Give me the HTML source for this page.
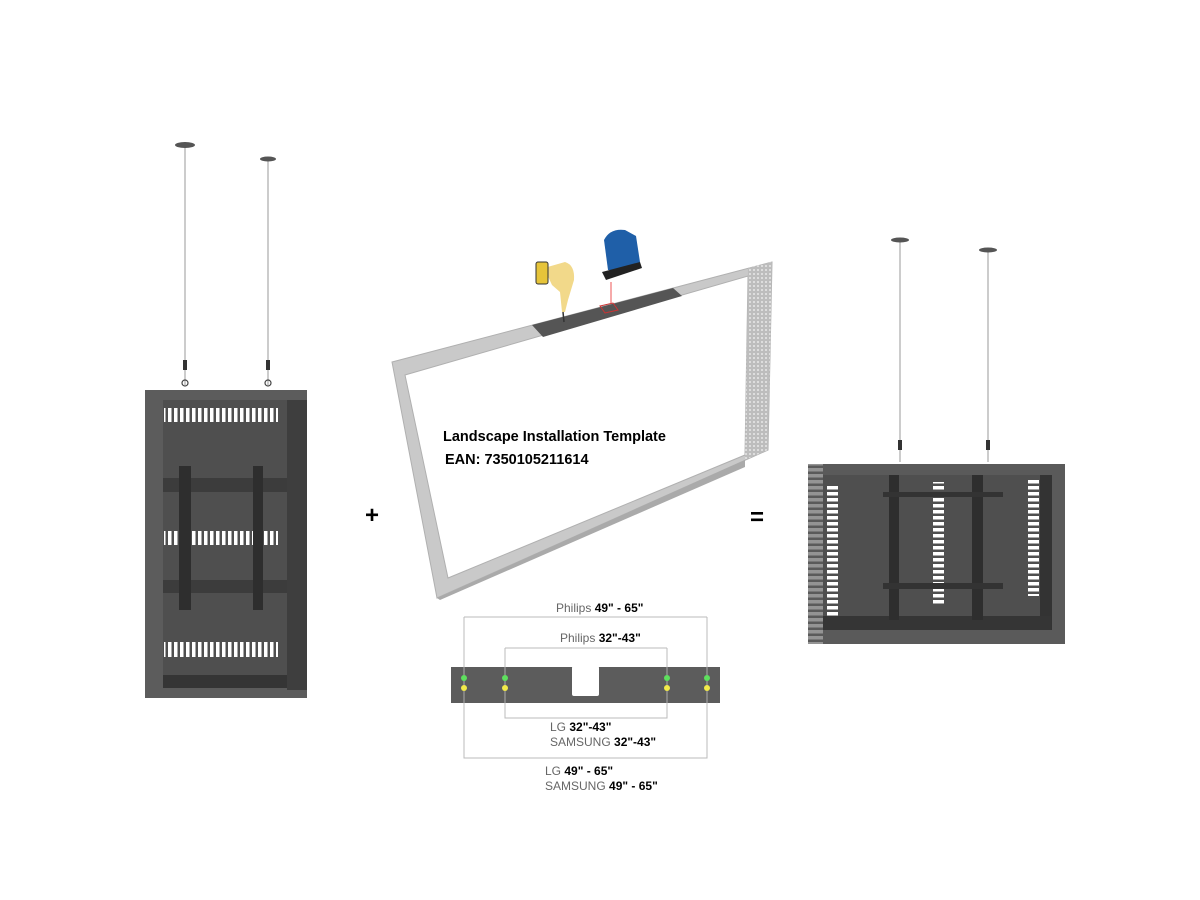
<!DOCTYPE html>
<html><head><meta charset="utf-8"><style>
html,body{margin:0;padding:0;background:#fff;}
svg{display:block;}
</style></head><body>
<svg width="1200" height="900" viewBox="0 0 1200 900" xmlns="http://www.w3.org/2000/svg" font-family="Liberation Sans, sans-serif">
<defs>
<pattern id="vent" width="6" height="10" patternUnits="userSpaceOnUse"><rect x="0" y="0" width="3.5" height="10" fill="#fff"/></pattern>
<pattern id="hvent" width="10" height="6" patternUnits="userSpaceOnUse"><rect x="0" y="0" width="10" height="3.5" fill="#fff"/></pattern>
<pattern id="perf" width="4" height="4" patternUnits="userSpaceOnUse"><rect width="4" height="4" fill="#bdbdbd"/><circle cx="2" cy="2" r="1" fill="#e8e8e8"/></pattern>
</defs>

<!-- LEFT CABINET wires -->
<line x1="185" y1="147" x2="185" y2="385" stroke="#aaa" stroke-width="1.2"/>
<line x1="268" y1="161" x2="268" y2="385" stroke="#aaa" stroke-width="1.2"/>
<ellipse cx="185" cy="145" rx="10" ry="3" fill="#555"/>
<ellipse cx="268" cy="159" rx="8" ry="2.5" fill="#555"/>
<rect x="183" y="360" width="4" height="10" fill="#333"/>
<rect x="266" y="360" width="4" height="10" fill="#333"/>
<circle cx="185" cy="383" r="3" fill="none" stroke="#444" stroke-width="1.2"/>
<circle cx="268" cy="383" r="3" fill="none" stroke="#444" stroke-width="1.2"/>
<!-- left cabinet body -->
<rect x="145" y="390" width="162" height="308" fill="#5c5c5c"/>
<rect x="163" y="400" width="124" height="288" fill="#4f4f4f"/>
<rect x="287" y="400" width="20" height="290" fill="#3e3e3e"/>
<rect x="163" y="675" width="124" height="13" fill="#353535"/>
<rect x="164" y="408" width="114" height="14" fill="url(#vent)"/>
<rect x="164" y="531" width="114" height="14" fill="url(#vent)"/>
<rect x="164" y="642" width="114" height="15" fill="url(#vent)"/>
<rect x="163" y="478" width="124" height="14" fill="#3c3c3c"/>
<rect x="163" y="580" width="124" height="13" fill="#3c3c3c"/>
<rect x="179" y="466" width="12" height="144" fill="#2e2e2e"/>
<rect x="253" y="466" width="10" height="144" fill="#2e2e2e"/>

<!-- PLUS -->
<text x="372" y="523" font-size="24" font-weight="bold" text-anchor="middle" fill="#000">+</text>

<!-- TEMPLATE FRAME -->
<path d="M392,362 L772,262 L768,450 L437,598 Z M405,375 L748,276 L745,455 L448,578 Z" fill="#c9c9c9" fill-rule="evenodd" stroke="#b0b0b0" stroke-width="1"/>
<polygon points="748,268 772,262 768,450 745,460" fill="url(#perf)"/>
<polygon points="437,598 745,460 745,467 440,600" fill="#aaa"/>
<!-- bar on top -->
<polygon points="532,325 673,288 682,296 543,337" fill="#555"/>
<polygon points="600,306 613,303 618,310 605,313" fill="none" stroke="#c33" stroke-width="1"/>
<line x1="611" y1="282" x2="611" y2="303" stroke="#e55" stroke-width="1"/>
<!-- drill -->
<path d="M544,268 L565,262 Q575,265 574,280 L568,300 L565,312 L562,312 L560,292 L552,285 Z" fill="#f2d98a"/>
<rect x="536" y="262" width="12" height="22" rx="2" fill="#e6c43a" stroke="#333" stroke-width="1"/>
<line x1="563" y1="312" x2="564" y2="322" stroke="#333" stroke-width="1.5"/>
<!-- jigsaw -->
<path d="M604,240 Q610,228 625,230 L636,236 L640,262 L632,270 L608,270 Z" fill="#1f5fa8"/>
<path d="M602,272 L640,262 L642,268 L606,280 Z" fill="#222"/>
<text x="443" y="441" font-size="14.5" font-weight="bold" fill="#000">Landscape Installation Template</text>
<text x="445" y="464" font-size="14.5" font-weight="bold" fill="#000">EAN: 7350105211614</text>

<!-- EQUALS -->
<text x="757" y="525" font-size="24" font-weight="bold" text-anchor="middle" fill="#000">=</text>

<!-- RIGHT CABINET -->
<line x1="900" y1="242" x2="900" y2="462" stroke="#aaa" stroke-width="1.2"/>
<line x1="988" y1="252" x2="988" y2="462" stroke="#aaa" stroke-width="1.2"/>
<ellipse cx="900" cy="240" rx="9" ry="2.5" fill="#555"/>
<ellipse cx="988" cy="250" rx="9" ry="2.5" fill="#555"/>
<rect x="898" y="440" width="4" height="10" fill="#333"/>
<rect x="986" y="440" width="4" height="10" fill="#333"/>
<rect x="808" y="464" width="257" height="180" fill="#5a5a5a"/>
<rect x="808" y="464" width="15" height="180" fill="url(#hvent)" opacity="0.35"/>
<rect x="823" y="475" width="228" height="155" fill="#4f4f4f"/>
<rect x="1040" y="475" width="12" height="155" fill="#333"/>
<rect x="823" y="616" width="228" height="14" fill="#353535"/>
<rect x="827" y="485" width="11" height="132" fill="url(#hvent)"/>
<rect x="933" y="482" width="11" height="124" fill="url(#hvent)"/>
<rect x="1028" y="480" width="11" height="116" fill="url(#hvent)"/>
<rect x="889" y="475" width="10" height="145" fill="#2e2e2e"/>
<rect x="972" y="475" width="11" height="145" fill="#2e2e2e"/>
<rect x="883" y="492" width="120" height="5" fill="#333"/>
<rect x="883" y="583" width="120" height="6" fill="#333"/>

<!-- BOTTOM BRACKET DIAGRAM -->
<g stroke="#bbb" stroke-width="1" fill="none">
<path d="M464,617 H707 M464,617 V758 H707 V617"/>
<path d="M505,648 H667 M505,648 V718 H667 V648"/>
</g>
<rect x="451" y="667" width="269" height="36" fill="#5c5c5c"/>
<rect x="572" y="666" width="27" height="30" rx="2" fill="#fff"/>
<g stroke="#aaa" stroke-width="1"><line x1="464" y1="667" x2="464" y2="703"/><line x1="505" y1="667" x2="505" y2="703"/><line x1="667" y1="667" x2="667" y2="703"/><line x1="707" y1="667" x2="707" y2="703"/></g>
<g fill="#5ee05e"><circle cx="464" cy="678" r="3"/><circle cx="505" cy="678" r="3"/><circle cx="667" cy="678" r="3"/><circle cx="707" cy="678" r="3"/></g>
<g fill="#f2ea4a"><circle cx="464" cy="688" r="3"/><circle cx="505" cy="688" r="3"/><circle cx="667" cy="688" r="3"/><circle cx="707" cy="688" r="3"/></g>
<g font-size="12" fill="#666">
<text x="556" y="612">Philips <tspan font-weight="bold" fill="#000">49" - 65"</tspan></text>
<text x="560" y="642">Philips <tspan font-weight="bold" fill="#000">32"-43"</tspan></text>
<text x="550" y="731">LG <tspan font-weight="bold" fill="#000">32"-43"</tspan></text>
<text x="550" y="746">SAMSUNG <tspan font-weight="bold" fill="#000">32"-43"</tspan></text>
<text x="545" y="775">LG <tspan font-weight="bold" fill="#000">49" - 65"</tspan></text>
<text x="545" y="790">SAMSUNG <tspan font-weight="bold" fill="#000">49" - 65"</tspan></text>
</g>
</svg>
</body></html>
